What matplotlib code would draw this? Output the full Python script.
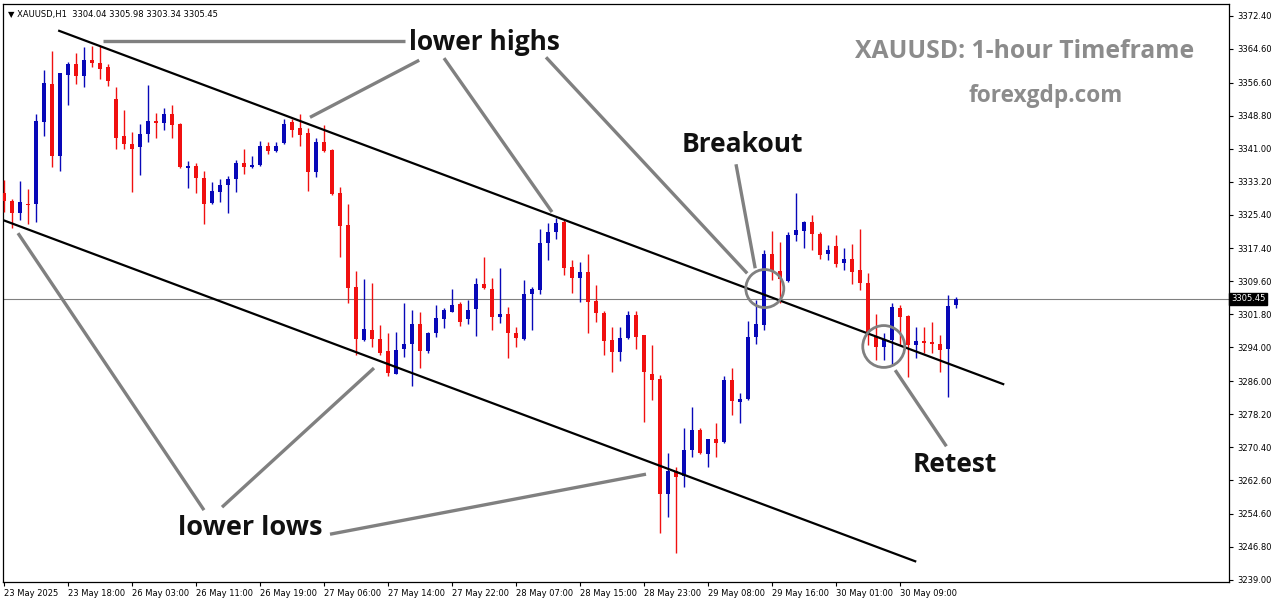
import numpy as np
import matplotlib
matplotlib.use("Agg")
import matplotlib.pyplot as plt
from matplotlib.patches import Ellipse

# XAUUSD H1 candles
opens = [3330.4, 3328.7, 3325.7, 3328.0, 3328.0, 3347.3, 3356.3, 3339.2, 3358.5, 3361.0,
         3358.2, 3361.9, 3361.3, 3360.3, 3352.7, 3343.9, 3342.2, 3341.3, 3344.4, 3347.6,
         3347.0, 3349.3, 3346.9, 3336.5, 3336.9, 3334.0, 3328.2, 3330.8, 3332.5, 3333.8,
         3337.7, 3336.7, 3337.2, 3341.7, 3340.5, 3342.4, 3347.2, 3345.8, 3344.7, 3335.4,
         3342.5, 3340.6, 3330.4, 3322.9, 3308.3, 3295.7, 3298.1, 3295.9, 3293.1, 3287.8,
         3293.5, 3294.7, 3299.5, 3293.2, 3297.3, 3300.8, 3302.4, 3304.2, 3300.6, 3303.0,
         3308.9, 3307.9, 3301.1, 3302.0, 3297.3, 3295.9, 3306.7, 3307.5, 3318.6, 3321.2,
         3323.7, 3313.0, 3310.5, 3311.8, 3304.9, 3302.2, 3295.7, 3292.9, 3296.1, 3301.6,
         3296.9, 3287.7, 3286.5, 3259.3, 3264.8, 3263.6, 3269.8, 3274.4, 3268.7, 3272.3,
         3271.5, 3286.2, 3281.1, 3281.7, 3296.4, 3299.4, 3316.0, 3312.1, 3309.8, 3320.6,
         3321.6, 3323.7, 3320.9, 3316.0, 3317.9, 3314.0, 3315.0, 3312.3, 3309.3, 3296.5,
         3294.0, 3295.7, 3303.3, 3301.4, 3294.5, 3295.5, 3295.2, 3294.7, 3293.5, 3304.04]
highs = [3333.5, 3329.1, 3333.3, 3331.4, 3349.2, 3359.6, 3364.0, 3358.9, 3361.5, 3363.7,
         3365.1, 3365.3, 3365.3, 3360.9, 3355.5, 3350.1, 3344.9, 3346.9, 3356.0, 3349.5,
         3350.5, 3351.3, 3347.0, 3338.0, 3337.5, 3335.7, 3333.1, 3333.7, 3334.5, 3338.4,
         3341.0, 3339.2, 3342.8, 3342.5, 3342.5, 3348.1, 3347.9, 3349.3, 3345.9, 3343.6,
         3346.6, 3340.8, 3331.9, 3327.8, 3312.0, 3310.1, 3309.3, 3299.3, 3297.5, 3297.7,
         3304.4, 3302.8, 3302.4, 3297.7, 3303.9, 3303.4, 3307.7, 3304.8, 3305.3, 3310.3,
         3315.3, 3310.3, 3312.7, 3303.6, 3298.9, 3309.9, 3308.3, 3321.9, 3323.3, 3324.7,
         3324.1, 3314.6, 3314.2, 3316.0, 3308.7, 3302.5, 3298.9, 3298.9, 3302.6, 3302.6,
         3296.9, 3294.5, 3287.4, 3268.9, 3265.7, 3275.0, 3279.8, 3275.0, 3272.4, 3276.1,
         3287.2, 3289.0, 3283.1, 3300.3, 3305.2, 3317.0, 3321.4, 3318.9, 3321.3, 3330.6,
         3323.9, 3325.3, 3321.2, 3318.2, 3320.5, 3317.4, 3318.4, 3322.1, 3311.6, 3302.0,
         3297.3, 3304.6, 3303.9, 3301.6, 3298.9, 3298.9, 3300.0, 3296.9, 3306.4, 3305.98]
lows = [3326.0, 3322.2, 3324.1, 3323.1, 3323.6, 3343.9, 3336.6, 3335.7, 3351.3, 3356.2,
        3355.6, 3360.3, 3357.4, 3355.8, 3340.8, 3340.8, 3330.8, 3334.7, 3342.6, 3343.6,
        3345.4, 3343.6, 3336.5, 3331.6, 3330.4, 3323.1, 3327.9, 3328.4, 3325.8, 3330.8,
        3334.9, 3336.3, 3336.9, 3339.7, 3340.2, 3342.2, 3343.8, 3341.7, 3331.0, 3334.3,
        3340.2, 3330.0, 3315.4, 3304.5, 3292.3, 3295.5, 3294.1, 3292.2, 3287.2, 3287.7,
        3291.8, 3284.8, 3289.2, 3292.7, 3296.5, 3298.6, 3302.3, 3299.0, 3299.5, 3296.6,
        3307.7, 3298.2, 3299.8, 3291.4, 3294.0, 3295.7, 3298.2, 3306.7, 3314.6, 3319.7,
        3311.1, 3306.9, 3304.8, 3297.3, 3300.0, 3292.2, 3288.2, 3290.8, 3295.9, 3293.5,
        3276.4, 3281.5, 3250.0, 3253.8, 3245.3, 3260.9, 3268.0, 3268.7, 3265.7, 3268.0,
        3271.4, 3277.9, 3276.1, 3281.5, 3294.9, 3298.2, 3309.9, 3304.4, 3309.5, 3319.2,
        3317.5, 3317.0, 3314.9, 3314.6, 3312.9, 3312.3, 3309.0, 3307.5, 3294.5, 3291.0,
        3291.1, 3290.0, 3294.5, 3287.0, 3291.4, 3292.6, 3292.6, 3288.2, 3282.3, 3303.34]
closes = [3328.6, 3325.8, 3328.3, 3327.7, 3347.5, 3356.6, 3339.2, 3358.8, 3361.0, 3358.2,
          3361.9, 3361.3, 3359.8, 3357.0, 3343.5, 3342.0, 3340.9, 3344.4, 3347.6, 3347.0,
          3349.1, 3346.6, 3336.7, 3336.8, 3334.0, 3328.0, 3330.9, 3332.5, 3333.8, 3337.7,
          3336.7, 3337.2, 3341.6, 3340.5, 3341.6, 3346.9, 3345.5, 3344.3, 3335.4, 3342.5,
          3340.5, 3330.2, 3322.7, 3308.1, 3295.9, 3298.3, 3295.9, 3292.7, 3288.0, 3293.3,
          3294.9, 3299.5, 3293.2, 3297.3, 3301.0, 3302.8, 3303.9, 3300.0, 3302.8, 3308.9,
          3308.1, 3301.2, 3302.0, 3297.3, 3296.1, 3306.7, 3307.7, 3318.7, 3321.2, 3323.5,
          3312.8, 3310.4, 3311.8, 3304.8, 3302.2, 3295.5, 3292.9, 3296.2, 3301.6, 3296.5,
          3288.2, 3286.2, 3259.3, 3264.8, 3263.4, 3269.8, 3274.4, 3268.9, 3272.3, 3271.4,
          3286.2, 3281.3, 3281.7, 3296.5, 3299.5, 3316.0, 3312.0, 3310.1, 3320.5, 3321.7,
          3323.7, 3320.7, 3315.8, 3317.0, 3313.7, 3315.0, 3311.9, 3309.3, 3297.3, 3294.1,
          3295.7, 3303.6, 3301.2, 3294.5, 3295.5, 3295.1, 3294.7, 3293.3, 3303.7, 3305.45]

time_labels = ["23 May 2025", "23 May 18:00", "26 May 03:00", "26 May 11:00", "26 May 19:00",
               "27 May 06:00", "27 May 14:00", "27 May 22:00", "28 May 07:00", "28 May 15:00",
               "28 May 23:00", "29 May 08:00", "29 May 16:00", "30 May 01:00", "30 May 09:00"]
label_step = 8
price_ticks = [3372.40, 3364.60, 3356.60, 3348.80, 3341.00, 3333.20, 3325.40, 3317.40, 3309.60,
               3301.80, 3294.00, 3286.00, 3278.20, 3270.40, 3262.60, 3254.60, 3246.80, 3239.00]
last_price = 3305.45

# channel lines (bar index, price)
upper_channel = [(6.9, 3368.85), (124.9, 3285.3)]
lower_channel = [(-0.125, 3324.1), (113.9, 3243.4)]

# callouts
highs_lines = [[(12.4, 3366.4), (50.1, 3366.4)],
               [(51.9, 3361.9), (38.25, 3348.4)],
               [(55.0, 3362.4), (68.5, 3326.0)],
               [(67.75, 3362.6), (92.9, 3311.5)]]
lows_lines = [[(1.75, 3321.0), (25.0, 3255.5)],
              [(27.25, 3256.2), (46.25, 3289.1)],
              [(40.75, 3249.8), (80.25, 3264.0)]]
breakout_line = [(91.5, 3337.3), (93.9, 3312.7)]
retest_line = [(111.4, 3288.6), (117.8, 3270.6)]
circles = [(95.1, 3307.9, 4.75, 9.0), (109.97, 3294.2, 5.25, 9.9)]

BLUE = "#0808b8"
RED = "#f01010"
GREY = "#808080"

fig = plt.figure(figsize=(12.76, 6.04), dpi=100)
ax = fig.add_axes([3 / 1276, 22 / 604, 1226 / 1276, 578 / 604])

x = np.arange(len(opens))
o = np.array(opens)
h = np.array(highs)
l = np.array(lows)
c = np.array(closes)
colors = [BLUE if cc >= oo else RED for oo, cc in zip(o, c)]

ax.vlines(x, l, h, colors=colors, linewidth=1.0, zorder=3)
body_low = np.minimum(o, c)
body_h = np.maximum(np.abs(c - o), 0.3)
ax.bar(x, body_h, bottom=body_low, width=0.62, color=colors, linewidth=0, zorder=4)

ax.axhline(last_price, color=GREY, linewidth=0.8, zorder=1)

for seg in (upper_channel, lower_channel):
    ax.plot([p[0] for p in seg], [p[1] for p in seg], color="black", linewidth=1.6, zorder=5)

for seg in highs_lines + lows_lines + [breakout_line, retest_line]:
    ax.plot([p[0] for p in seg], [p[1] for p in seg], color=GREY, linewidth=2.4,
            solid_capstyle="butt", zorder=6)

for cx, cy, w, hh in circles:
    ax.add_patch(Ellipse((cx, cy), w, hh, fill=False, edgecolor=GREY, linewidth=2.0, zorder=7))

lab = dict(fontsize=19, fontweight="bold", family="Open Sans", color="#111111",
           ha="center", va="center", zorder=8)
ax.text(60.0, 3366.2, "lower highs", **lab)
ax.text(30.75, 3251.2, "lower lows", **dict(lab, fontsize=19.5))
ax.text(92.25, 3342.0, "Breakout", **lab)
ax.text(118.9, 3266.4, "Retest", **lab)
ax.text(127.6, 3364.0, "XAUUSD: 1-hour Timeframe", fontsize=17.8, fontweight="bold",
        family="Open Sans", color="#8c8c8c", ha="center", va="center")
ax.text(130.25, 3353.4, "forexgdp.com", fontsize=16.3, fontweight="bold",
        family="Open Sans", color="#8c8c8c", ha="center", va="center")

ax.text(0.004, 0.99, "\u25bc XAUUSD,H1  3304.04 3305.98 3303.34 3305.45", transform=ax.transAxes,
        fontsize=6.0, ha="left", va="top", color="black")

ax.set_xlim(-0.125, 153.125)
ax.set_ylim(3238.5, 3375.2)

ax.yaxis.tick_right()
ax.set_yticks(price_ticks)
ax.set_yticklabels([f"{p:.2f}" for p in price_ticks], fontsize=6.0)
ax.tick_params(axis="y", direction="out", length=3, width=0.8, pad=3)

xt = np.arange(len(time_labels)) * label_step
ax.set_xticks(xt)
ax.set_xticklabels(time_labels, fontsize=6.0, ha="left")
ax.tick_params(axis="x", direction="out", length=3, width=0.8, pad=2)

ax.text(1.0015, last_price, f"{last_price:.2f}", transform=ax.get_yaxis_transform(),
        fontsize=6.0, color="white", ha="left", va="center",
        bbox=dict(boxstyle="square,pad=0.2", facecolor="black", edgecolor="black"))

for s in ax.spines.values():
    s.set_linewidth(0.9)

fig.savefig("out.png", dpi=100, facecolor="white")
